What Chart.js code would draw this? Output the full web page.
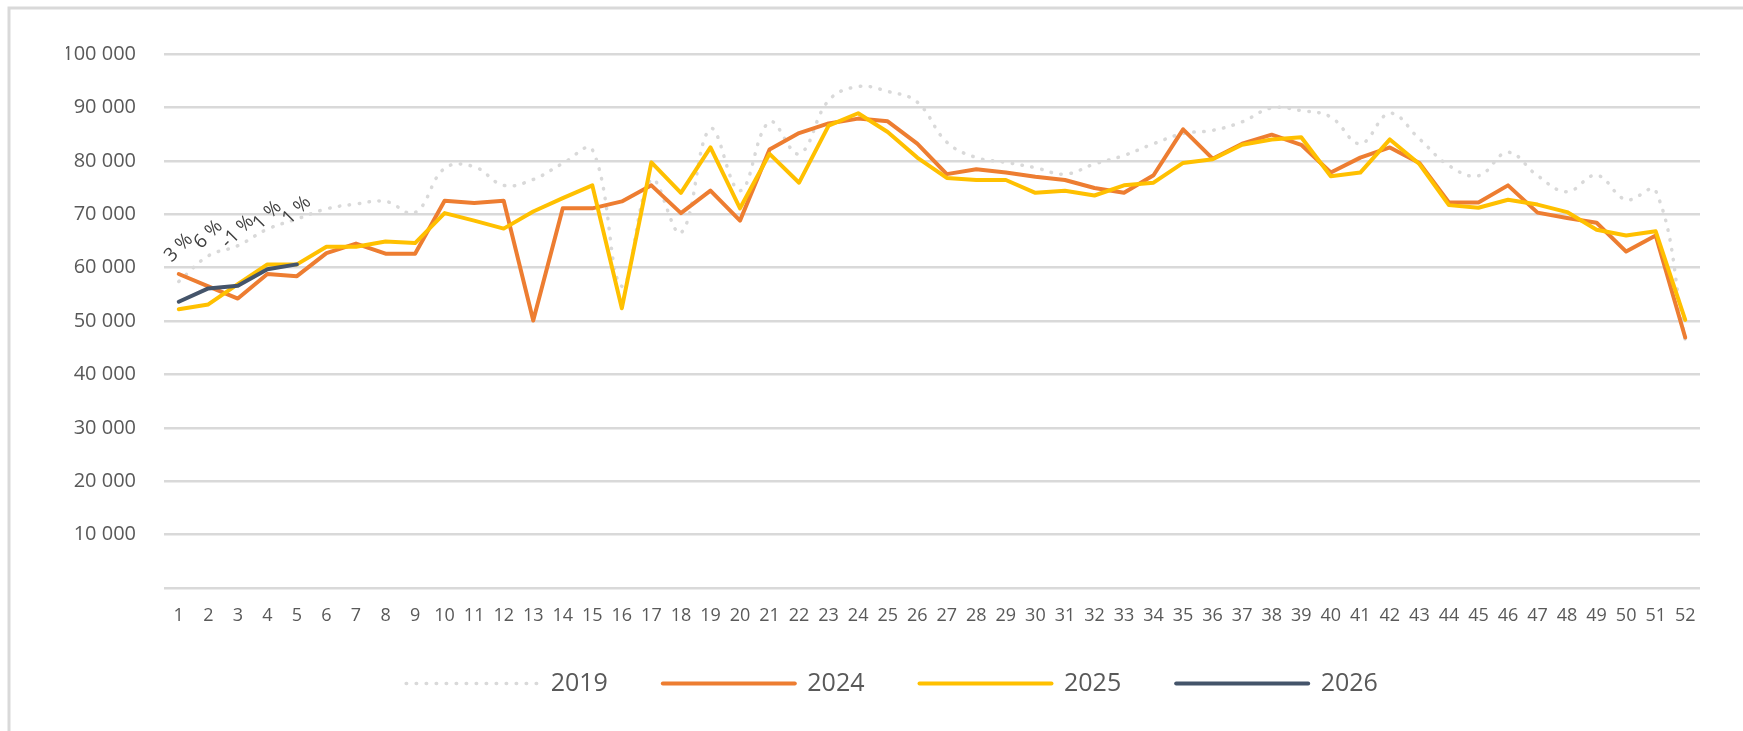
<!DOCTYPE html>
<html><head><meta charset="utf-8">
<script src="https://cdn.jsdelivr.net/npm/chart.js@4/dist/chart.umd.min.js"></script>
<style>html,body{margin:0;padding:0;background:#fff;overflow:hidden}</style>
</head><body>
<canvas id="c" width="1743" height="731"></canvas>
<script>
const weeks = ['1','2','3','4','5','6','7','8','9','10','11','12','13','14','15','16','17','18','19','20','21','22','23','24','25','26','27','28','29','30','31','32','33','34','35','36','37','38','39','40','41','42','43','44','45','46','47','48','49','50','51','52'];
const yTickLabels = ['', '10 000', '20 000', '30 000', '40 000', '50 000', '60 000', '70 000', '80 000', '90 000', '100 000'];
const seriesNames = ['2019', '2024', '2025', '2026'];
const s2019 = [57400,62200,64100,67200,69100,71000,71900,72400,70300,78600,78900,75400,76500,79500,82100,56500,76500,66500,86000,74400,87300,81300,91300,93900,93000,91000,83500,80600,79700,78700,77500,79400,81000,83200,85100,85700,87300,89900,89400,88200,83200,88900,84100,79100,77200,81600,77200,74200,77300,72700,74400,46400];
const s2024 = [58800,56500,54200,58800,58400,62700,64500,62600,62600,72500,72100,72500,50100,71100,71100,72400,75400,70200,74400,68800,82100,85200,87000,87900,87400,83200,77500,78400,77800,77000,76400,74900,74000,77300,85900,80400,83200,84900,83000,77800,80600,82500,79600,72200,72200,75400,70300,69300,68400,63000,66000,46900];
const s2025 = [52200,53100,56900,60600,60600,63900,63900,64900,64600,70200,68800,67300,70500,73000,75400,52400,79700,74000,82500,71100,81300,75900,86600,88900,85400,80600,76800,76400,76400,74000,74400,73500,75400,75900,79600,80300,83000,84000,84400,77100,77800,84000,79400,71700,71200,72700,71800,70400,67100,66000,66800,50200];
const s2026 = [53600,56100,56600,59700,60600];
const pctLabels = ['3 %', '6 %', '-1 %', '1 %', '1 %'];

const framePlugin = {
  id: 'frame',
  beforeDraw(chart) {
    const c = chart.ctx;
    c.save();
    c.fillStyle = '#fff';
    c.fillRect(0, 0, chart.width, chart.height);
    c.strokeStyle = '#d9d9d9';
    c.lineWidth = 3;
    c.beginPath();
    c.moveTo(9, chart.height);
    c.lineTo(9, 8);
    c.lineTo(chart.width, 8);
    c.stroke();
    c.restore();
  }
};

const legendShift = {
  id: 'legendShift',
  afterLayout(chart) {
    const lg = chart.legend;
    if (lg) { lg.top -= 12; lg.bottom -= 12; lg.left += 9; lg.right += 9; }
  }
};

const pctPlugin = {
  id: 'pct',
  afterDatasetsDraw(chart) {
    const meta = chart.getDatasetMeta(3);
    const c = chart.ctx;
    c.save();
    c.font = '19px "Open Sans"';
    c.fillStyle = '#404040';
    c.textAlign = 'center';
    c.textBaseline = 'middle';
    meta.data.forEach((pt, i) => {
      if (!pctLabels[i]) return;
      c.save();
      c.translate(pt.x, pt.y - 54);
      c.rotate(-Math.PI / 4);
      c.fillText(pctLabels[i], 0, 0);
      c.restore();
    });
    c.restore();
  }
};

new Chart(document.getElementById('c'), {
  type: 'line',
  data: {
    labels: weeks,
    datasets: [
      { label: seriesNames[0], data: s2019, borderColor: '#d9d9d9', backgroundColor: '#d9d9d9', borderWidth: 3.5, borderDash: [0.5, 9.5], borderCapStyle: 'round', tension: 0.4, pointRadius: 0, order: 4 },
      { label: seriesNames[1], data: s2024, borderColor: '#ed7d31', backgroundColor: '#ed7d31', borderWidth: 4, borderJoinStyle: 'round', borderCapStyle: 'round', tension: 0, pointRadius: 0, order: 3 },
      { label: seriesNames[2], data: s2025, borderColor: '#ffc000', backgroundColor: '#ffc000', borderWidth: 4, borderJoinStyle: 'round', borderCapStyle: 'round', tension: 0, pointRadius: 0, order: 2 },
      { label: seriesNames[3], data: s2026, borderColor: '#44546a', backgroundColor: '#44546a', borderWidth: 4, borderJoinStyle: 'round', borderCapStyle: 'round', tension: 0, pointRadius: 0, order: 1 }
    ]
  },
  options: {
    responsive: false,
    animation: false,
    devicePixelRatio: 1,
    events: [],
    layout: { padding: { left: 66, right: 43, top: 54, bottom: 13 } },
    scales: {
      x: {
        offset: true,
        grid: { display: false, drawTicks: false },
        border: { display: false },
        ticks: { autoSkip: false, maxRotation: 0, minRotation: 0, padding: 17, color: '#595959', font: { family: 'Open Sans', size: 18 } },
        afterFit(s) { s.height = 40; }
      },
      y: {
        min: 0, max: 100000,
        grid: { color: '#d9d9d9', lineWidth: 2.5, drawTicks: false },
        border: { display: false },
        ticks: { stepSize: 10000, padding: 28, color: '#595959', font: { family: 'Open Sans', size: 20 }, callback: (v, i) => yTickLabels[i] },
        afterFit(s) { s.width = 98; }
      }
    },
    plugins: {
      tooltip: { enabled: false },
      legend: {
        position: 'bottom',
        labels: {
          usePointStyle: true, pointStyle: 'line', pointStyleWidth: 132, padding: 55, color: '#595959',
          font: { family: 'Open Sans', size: 25 },
          generateLabels(chart) {
            return chart.data.datasets.map((ds, i) => ({
              text: ds.label,
              fillStyle: ds.borderColor,
              strokeStyle: ds.borderColor,
              lineWidth: ds.borderWidth,
              lineDash: ds.borderDash || [],
              lineCap: ds.borderCapStyle || 'butt',
              pointStyle: 'line',
              fontColor: '#595959',
              hidden: false,
              datasetIndex: i
            }));
          }
        }
      }
    }
  },
  plugins: [framePlugin, legendShift, pctPlugin]
});
</script>
</body></html>
